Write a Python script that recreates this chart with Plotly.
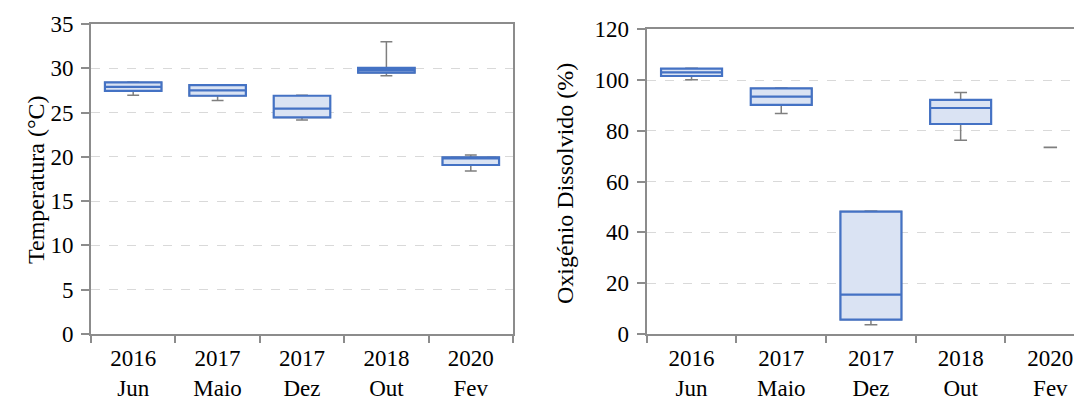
import plotly.graph_objects as go

# ---- data ----
categories = ["2016<br>Jun", "2017<br>Maio", "2017<br>Dez", "2018<br>Out", "2020<br>Fev"]

temp_min = [26.95, 26.35, 24.15, 29.15, 18.4]
temp_q1 = [27.45, 26.9, 24.45, 29.5, 19.08]
temp_med = [27.9, 27.5, 25.45, 29.8, 19.9]
temp_q3 = [28.4, 28.1, 26.9, 30.05, 19.95]
temp_max = [28.45, 28.15, 26.95, 33.0, 20.2]

oxy_cats = categories[:4]
oxy_min = [100.1, 86.8, 3.6, 76.3]
oxy_q1 = [101.6, 90.2, 5.7, 82.7]
oxy_med = [103.0, 93.5, 15.5, 89.0]
oxy_q3 = [104.5, 96.7, 48.2, 92.2]
oxy_max = [104.7, 96.9, 48.4, 95.1]

oxy_single_cat = [categories[4]]
oxy_single = [73.5]

temp_ticks = [0, 5, 10, 15, 20, 25, 30, 35]
oxy_ticks = [0, 20, 40, 60, 80, 100, 120]

# ---- styles ----
BLUE = "#4472C4"
FILL = "#DAE3F3"
GRAY = "#7F7F7F"
AXIS = "#8C8C8C"
GRID = "#D9D9D9"
FONT = "'Liberation Serif', 'Times New Roman', Times, 'DejaVu Serif', serif"
FS = 23
FT = 24

fig = go.Figure()


def add_boxes(x, lo, q1, med, q3, hi, xa, ya, width):
    # gray whiskers (full statistics)
    fig.add_trace(go.Box(
        x=x, q1=q1, median=med, q3=q3, lowerfence=lo, upperfence=hi,
        xaxis=xa, yaxis=ya, width=width, whiskerwidth=0.21,
        line=dict(color=GRAY, width=1.5), fillcolor="rgba(0,0,0,0)",
        showlegend=False, hoverinfo="skip", boxpoints=False,
    ))
    # blue box on top (fences at quartiles -> no whiskers)
    fig.add_trace(go.Box(
        x=x, q1=q1, median=med, q3=q3, lowerfence=q1, upperfence=q3,
        xaxis=xa, yaxis=ya, width=width, whiskerwidth=0.0,
        line=dict(color=BLUE, width=2.2), fillcolor=FILL,
        showlegend=False, hoverinfo="skip", boxpoints=False,
    ))


add_boxes(categories, temp_min, temp_q1, temp_med, temp_q3, temp_max, "x", "y", 0.67)
add_boxes(oxy_cats, oxy_min, oxy_q1, oxy_med, oxy_q3, oxy_max, "x2", "y2", 0.68)

# single observation: only a gray dash
fig.add_trace(go.Box(
    x=oxy_single_cat, q1=oxy_single, median=oxy_single, q3=oxy_single,
    lowerfence=oxy_single, upperfence=oxy_single,
    xaxis="x2", yaxis="y2", width=0.15, whiskerwidth=1,
    line=dict(color=GRAY, width=1.8), fillcolor="rgba(0,0,0,0)",
    showlegend=False, hoverinfo="skip", boxpoints=False,
))

# The page body has an 8px margin: lay out in a canvas shifted by 8px.
OFF = 8
W, H = 1082 - OFF, 399 - OFF


def px_x(x):
    return (x - OFF) / W


def px_y(y):
    return (H - (y - OFF)) / H


xcommon = dict(
    type="category", categoryorder="array", categoryarray=categories,
    showline=True, linecolor=AXIS, linewidth=2, mirror=True,
    ticks="outside", tickson="boundaries", ticklen=7, tickcolor=AXIS, tickwidth=1.5,
    showgrid=False, zeroline=False, automargin=False, ticklabelstandoff=2,
    tickfont=dict(family=FONT, size=FS, color="black"),
)
ycommon = dict(
    showline=True, linecolor=AXIS, linewidth=2,
    ticks="outside", ticklen=8, tickcolor=AXIS, tickwidth=1.5,
    showgrid=True, gridcolor=GRID, griddash="dash", gridwidth=1,
    zeroline=False, automargin=False, ticklabelstandoff=3,
    tickfont=dict(family=FONT, size=FS, color="black"),
)

fig.update_layout(
    template="none",
    width=W, height=H,
    margin=dict(l=0, r=0, t=0, b=0, autoexpand=False),
    paper_bgcolor="white", plot_bgcolor="white",
    font=dict(family=FONT, size=FS, color="black"),
    boxmode="overlay",
    xaxis=dict(xcommon, domain=[px_x(91), px_x(513)], range=[-0.5, 4.5], anchor="y"),
    yaxis=dict(ycommon, domain=[px_y(334), px_y(24)], range=[0, 35],
               tickvals=temp_ticks, mirror=True, anchor="x"),
    xaxis2=dict(xcommon, domain=[px_x(646.7), 1.0], range=[-0.5, 4.353], anchor="y2"),
    yaxis2=dict(ycommon, domain=[px_y(334), px_y(29.3)], range=[0, 120],
                tickvals=oxy_ticks, mirror=False, anchor="x2"),
    annotations=[
        dict(text="Temperatura (°C)", textangle=-90, x=px_x(21), y=px_y(180),
             xref="paper", yref="paper", showarrow=False,
             font=dict(family=FONT, size=FT, color="black")),
        dict(text="Oxigénio Dissolvido (%)", textangle=-90, x=px_x(565), y=px_y(184),
             xref="paper", yref="paper", showarrow=False,
             font=dict(family=FONT, size=FT, color="black")),
    ],
)

fig.write_html("out.html")
